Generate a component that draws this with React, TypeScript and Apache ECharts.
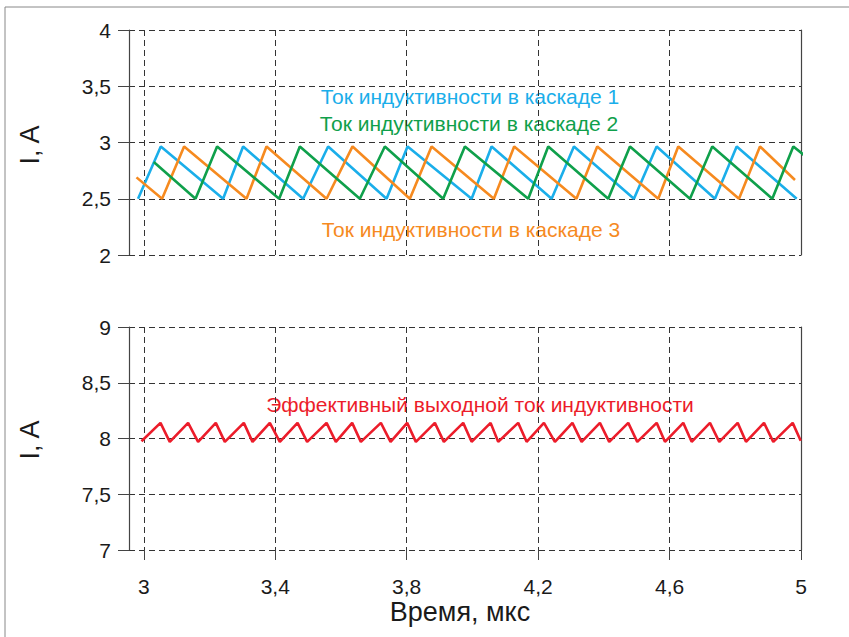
import React, { useEffect, useRef } from "react";
import * as echarts from "echarts";

// Time ticks (µs)
const timeTicks = [3, 3.4, 3.8, 4.2, 4.6, 5];

// Phase 1 (blue) vertices
const blueT = [2.9826, 3.0518, 3.2414, 3.3023, 3.4849, 3.561, 3.7388, 3.8027, 3.9976, 4.0584, 4.2411, 4.309, 4.4916, 4.5607, 4.7382, 4.8043, 4.9869];
const blueI = [2.5, 2.965, 2.5, 2.965, 2.5, 2.965, 2.5, 2.965, 2.5, 2.965, 2.5, 2.965, 2.5, 2.965, 2.5, 2.965, 2.5];

// Phase 2 (green) vertices
const greenT = [3.0304, 3.1574, 3.2231, 3.4119, 3.4749, 3.6575, 3.7336, 3.9111, 3.9772, 4.1699, 4.2308, 4.4134, 4.4795, 4.6621, 4.73, 4.9126, 4.9766, 5.0426];
const greenI = [2.827, 2.5, 2.965, 2.5, 2.965, 2.5, 2.965, 2.5, 2.965, 2.5, 2.965, 2.5, 2.965, 2.5, 2.965, 2.5, 2.965, 2.81];

// Phase 3 (orange) vertices
const orangeT = [2.9778, 3.0557, 3.1227, 3.3126, 3.3735, 3.5562, 3.6353, 3.8097, 3.8758, 4.0654, 4.1272, 4.3166, 4.3799, 4.5656, 4.6265, 4.8113, 4.8752, 4.9817];
const orangeI = [2.69, 2.5, 2.965, 2.5, 2.965, 2.5, 2.965, 2.5, 2.965, 2.5, 2.965, 2.5, 2.965, 2.5, 2.965, 2.5, 2.965, 2.667];

// Effective output current (red) vertices
const redT = [2.993, 3.0508, 3.0791, 3.1349, 3.1653, 3.2192, 3.2466, 3.3044, 3.3309, 3.3836, 3.414, 3.4679, 3.4971, 3.5562, 3.5845, 3.6341, 3.6606, 3.7215, 3.751, 3.8015, 3.828, 3.8858, 3.9132, 3.972, 3.9976, 4.0554, 4.0785, 4.1394, 4.165, 4.2177, 4.2511, 4.3044, 4.3324, 4.3881, 4.4164, 4.4743, 4.5017, 4.5608, 4.586, 4.6417, 4.6673, 4.723, 4.7513, 4.8073, 4.8326, 4.8874, 4.9157, 4.9747, 4.9991];
const redI = [7.975, 8.14, 7.97, 8.14, 7.97, 8.14, 7.97, 8.14, 7.97, 8.14, 7.97, 8.14, 7.97, 8.14, 7.97, 8.14, 7.97, 8.14, 7.97, 8.14, 7.97, 8.14, 7.97, 8.14, 7.97, 8.14, 7.97, 8.14, 7.97, 8.14, 7.97, 8.14, 7.97, 8.14, 7.97, 8.14, 7.97, 8.14, 7.97, 8.14, 7.97, 8.14, 7.97, 8.14, 7.97, 8.14, 7.97, 8.14, 7.98];

const labelPhase1 = "Ток индуктивности в каскаде 1";
const labelPhase2 = "Ток индуктивности в каскаде 2";
const labelPhase3 = "Ток индуктивности в каскаде 3";
const labelOut = "Эффективный выходной ток индуктивности";
const yTitle = "I, A";
const xTitle = "Время, мкс";

const FONT = "'Liberation Sans', Arial, Helvetica, sans-serif";
const AX = "#444";
const DASH = { type: [6, 4] as any, color: "#333", width: 1 };
const comma = (v: number) => String(Math.round(v * 100) / 100).replace(".", ",");

const zip = (t: number[], v: number[]) => t.map((x, i) => [x, v[i]]);

export default function App() {
  const ref = useRef<HTMLDivElement>(null);
  useEffect(() => {
    if (!ref.current) return;
    const chart = echarts.init(ref.current, undefined, { renderer: "svg" });
    const xAxis = (gi: number) => ({
      type: "value",
      gridIndex: gi,
      min: 2.955,
      max: 5,
      axisLine: { show: false },
      axisTick: { show: gi === 1, customValues: timeTicks, length: 10, lineStyle: { color: AX } },
      axisLabel: {
        show: gi === 1,
        customValues: timeTicks,
        formatter: (v: number) => comma(v),
        margin: 26,
        fontSize: 21,
        color: "#1a1a1a",
        fontFamily: FONT,
      },
      splitLine: { show: true, lineStyle: DASH },
    });
    const yLeft = (gi: number, min: number, max: number) => ({
      type: "value",
      gridIndex: gi,
      min,
      max,
      interval: 0.5,
      axisLine: { show: true, lineStyle: { color: AX, width: 1.2 } },
      axisTick: { show: true, length: 11, lineStyle: { color: AX } },
      axisLabel: { formatter: (v: number) => comma(v), margin: 18, fontSize: 21, color: "#1a1a1a", fontFamily: FONT },
      splitLine: { show: true, lineStyle: DASH },
    });
    const yRight = (gi: number, min: number, max: number) => ({
      type: "value",
      gridIndex: gi,
      position: "right",
      min,
      max,
      interval: 0.5,
      axisLine: { show: true, lineStyle: { color: AX, width: 1.2 } },
      axisTick: { show: false },
      axisLabel: { show: false },
      splitLine: { show: false },
    });
    const line = (name: string, data: number[][], color: string, xi: number, yi: number) => ({
      name,
      type: "line",
      xAxisIndex: xi,
      yAxisIndex: yi,
      data,
      symbol: "none",
      clip: false,
      lineStyle: { color, width: 2.6 },
      z: 5,
    });
    chart.setOption({
      animation: false,
      backgroundColor: "#fff",
      grid: [
        { left: 129, top: 30, width: 672, height: 225 },
        { left: 129, top: 327, width: 672, height: 223 },
      ],
      xAxis: [xAxis(0), xAxis(1)],
      yAxis: [yLeft(0, 2, 4), yRight(0, 2, 4), yLeft(1, 7, 9), yRight(1, 7, 9)],
      series: [
        line(labelPhase1, zip(blueT, blueI), "#1aaeea", 0, 0),
        line(labelPhase3, zip(orangeT, orangeI), "#f68a1f", 0, 0),
        line(labelPhase2, zip(greenT, greenI), "#0fa04b", 0, 0),
        line(labelOut, zip(redT, redI), "#ec1c2a", 1, 2),
      ],
      graphic: [
        { type: "rect", shape: { x: 5, y: 7, width: 900, height: 700 }, style: { fill: "none", stroke: "#888", lineWidth: 1 }, silent: true },
        { type: "text", x: 470, y: 96, style: { text: labelPhase1, fill: "#1aaeea", font: `21px ${FONT}`, textAlign: "center", textVerticalAlign: "middle" } },
        { type: "text", x: 469, y: 123, style: { text: labelPhase2, fill: "#0fa04b", font: `21px ${FONT}`, textAlign: "center", textVerticalAlign: "middle" } },
        { type: "text", x: 471, y: 229, style: { text: labelPhase3, fill: "#f68a1f", font: `21px ${FONT}`, textAlign: "center", textVerticalAlign: "middle" } },
        { type: "text", x: 480, y: 404, style: { text: labelOut, fill: "#ec1c2a", font: `21px ${FONT}`, textAlign: "center", textVerticalAlign: "middle" } },
        { type: "text", x: 30, y: 145, rotation: Math.PI / 2, style: { text: yTitle, fill: "#1a1a1a", font: `27px ${FONT}`, textAlign: "center", textVerticalAlign: "middle" } },
        { type: "text", x: 30, y: 440, rotation: Math.PI / 2, style: { text: yTitle, fill: "#1a1a1a", font: `27px ${FONT}`, textAlign: "center", textVerticalAlign: "middle" } },
        { type: "text", x: 460, y: 612, style: { text: xTitle, fill: "#1a1a1a", font: `27px ${FONT}`, textAlign: "center", textVerticalAlign: "middle" } },
      ],
    });
    return () => chart.dispose();
  }, []);
  return <div ref={ref} style={{ position: "fixed", left: 0, top: 0, width: 849, height: 637 }} />;
}
